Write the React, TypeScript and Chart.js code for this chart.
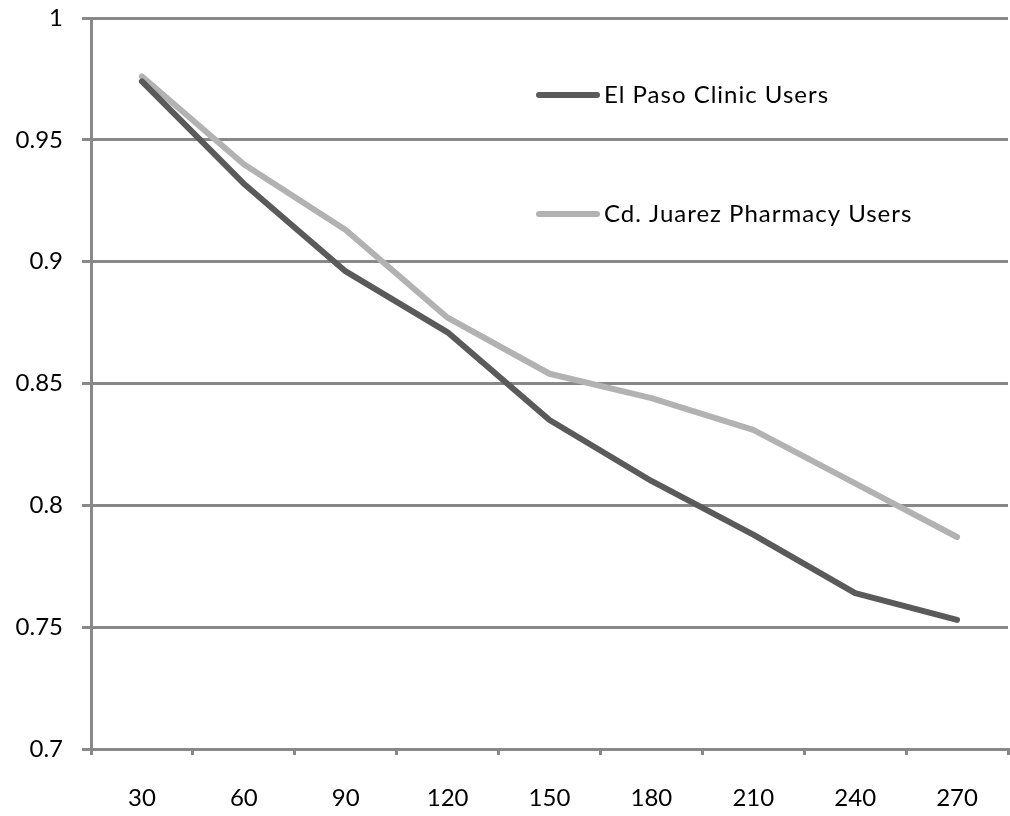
import React, { useEffect, useRef } from "react";
import { Chart, registerables } from "chart.js";

Chart.register(...registerables);

const categories = ["30", "60", "90", "120", "150", "180", "210", "240", "270"];
const elPasoLabel = "El Paso Clinic Users";
const juarezLabel = "Cd. Juarez Pharmacy Users";
const elPasoValues = [0.974, 0.932, 0.896, 0.871, 0.835, 0.81, 0.788, 0.764, 0.753];
const juarezValues = [0.976, 0.94, 0.913, 0.877, 0.854, 0.844, 0.831, 0.809, 0.787];
const yTicks = [0.7, 0.75, 0.8, 0.85, 0.9, 0.95, 1];

const DARK = "#5a5a5a";
const LIGHT = "#b2b2b2";
const GRID = "#888888";
const FONT = "Lato, 'DejaVu Sans', sans-serif";

const legendPlugin = {
  id: "insideLegend",
  afterDatasetsDraw(chart: any) {
    const ctx = chart.ctx as CanvasRenderingContext2D;
    const items = [
      { label: elPasoLabel, color: DARK, y: 95 },
      { label: juarezLabel, color: LIGHT, y: 214 },
    ];
    ctx.save();
    for (const it of items) {
      ctx.strokeStyle = it.color;
      ctx.lineWidth = 6;
      ctx.lineCap = "round";
      ctx.beginPath();
      ctx.moveTo(539, it.y);
      ctx.lineTo(597, it.y);
      ctx.stroke();
      ctx.fillStyle = "#000000";
      ctx.font = `24px ${FONT}`;
      (ctx as any).letterSpacing = "1px";
      ctx.textBaseline = "middle";
      ctx.textAlign = "left";
      ctx.fillText(it.label, 604, it.y);
    }
    ctx.restore();
  },
};

export default function App() {
  const ref = useRef<HTMLCanvasElement | null>(null);
  useEffect(() => {
    document.body.style.margin = "0";
    if (!ref.current) return;
    const chart = new Chart(ref.current, {
      type: "line",
      data: {
        labels: categories,
        datasets: [
          {
            label: elPasoLabel,
            data: elPasoValues,
            borderColor: DARK,
            backgroundColor: DARK,
            borderWidth: 6,
            pointRadius: 0,
            borderCapStyle: "round",
            borderJoinStyle: "round",
            tension: 0,
            order: 1,
          },
          {
            label: juarezLabel,
            data: juarezValues,
            borderColor: LIGHT,
            backgroundColor: LIGHT,
            borderWidth: 6,
            pointRadius: 0,
            borderCapStyle: "round",
            borderJoinStyle: "round",
            tension: 0,
            order: 2,
          },
        ],
      },
      options: {
        responsive: false,
        animation: false,
        layout: { padding: { top: 18, right: 2, left: 0, bottom: 0 } },
        plugins: { legend: { display: false }, tooltip: { enabled: false } },
        scales: {
          x: {
            offset: true,
            grid: {
              offset: true,
              drawOnChartArea: false,
              drawTicks: true,
              tickLength: 6,
              color: GRID,
              lineWidth: 3,
            },
            border: { color: GRID, width: 3 },
            ticks: {
              color: "#000000",
              font: { family: FONT, size: 24 },
              padding: 29,
              maxRotation: 0,
            },
            afterFit(scale: any) {
              scale.height = 67;
            },
          },
          y: {
            min: 0.7,
            max: 1,
            afterBuildTicks(scale: any) {
              scale.ticks = yTicks.map((v) => ({ value: v }));
            },
            grid: {
              color: GRID,
              lineWidth: 3,
              tickLength: 9,
            },
            border: { color: GRID, width: 3 },
            ticks: {
              color: "#000000",
              font: { family: FONT, size: 24 },
              padding: 19,
              callback: (v: any) => String(Number(v)),
            },
            afterFit(scale: any) {
              scale.width = 91;
              scale.paddingTop = 0;
              scale.paddingBottom = 0;
            },
          },
        },
      },
      plugins: [legendPlugin],
    } as any);
    return () => chart.destroy();
  }, []);
  return <canvas ref={ref} width={1010} height={816} style={{ display: "block" }} />;
}
